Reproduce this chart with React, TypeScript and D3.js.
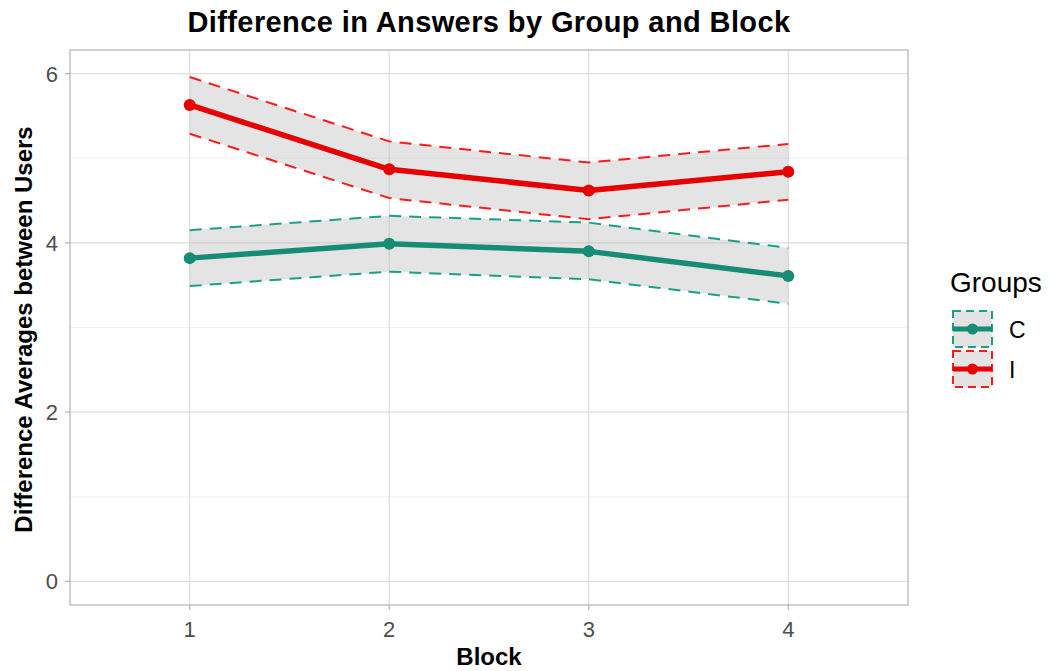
import React from "react";
import * as d3 from "d3";

const blocks = [1, 2, 3, 4];
const groups = ["C", "I"];
const meanC = [3.82, 3.99, 3.9, 3.61];
const upperC = [4.15, 4.32, 4.24, 3.94];
const lowerC = [3.49, 3.66, 3.57, 3.28];
const meanI = [5.63, 4.87, 4.62, 4.84];
const upperI = [5.96, 5.2, 4.95, 5.17];
const lowerI = [5.29, 4.53, 4.28, 4.51];
const yTicks = [0, 2, 4, 6];
const yMinor = [1, 3, 5];

const lineColors: Record<string, string> = { C: "#178c74", I: "#e60000" };
const dashColors: Record<string, string> = { C: "#1aa08a", I: "#ff1a1a" };

export default function App() {
  const W = 1053, H = 671;
  const L = 70, R = 908, T = 50, B = 605;
  const x = d3.scaleLinear().domain([0.4, 4.6]).range([L, R]);
  const y = d3.scaleLinear().domain([-0.28, 6.28]).range([B, T]);
  const series = [
    { g: "C", mean: meanC, up: upperC, lo: lowerC },
    { g: "I", mean: meanI, up: upperI, lo: lowerI },
  ];
  const line = d3.line<[number, number]>().x(d => x(d[0])).y(d => y(d[1]));
  const font = "'Liberation Sans', Arial, Helvetica, sans-serif";
  return (
    <svg width={W} height={H} style={{ position: "absolute", left: 0, top: 0, fontFamily: font }}>
      <rect width={W} height={H} fill="white" />
      {yMinor.map(v => (
        <line key={"m" + v} x1={L} x2={R} y1={y(v)} y2={y(v)} stroke="#efefef" strokeWidth={0.8} />
      ))}
      {yTicks.map(v => (
        <line key={"g" + v} x1={L} x2={R} y1={y(v)} y2={y(v)} stroke="#dedede" strokeWidth={1.2} />
      ))}
      {blocks.map(v => (
        <line key={"gx" + v} x1={x(v)} x2={x(v)} y1={T} y2={B} stroke="#dedede" strokeWidth={1.2} />
      ))}
      {series.map(s => {
        const a = d3.area<number>()
          .x((_, i) => x(blocks[i]))
          .y0((_, i) => y(s.lo[i]))
          .y1((_, i) => y(s.up[i]));
        return <path key={"r" + s.g} d={a(s.mean) || ""} fill="#b3b3b3" fillOpacity={0.35} />;
      })}
      {series.map(s => (
        <g key={"d" + s.g}>
          <path d={line(blocks.map((b, i) => [b, s.up[i]] as [number, number])) || ""} fill="none" stroke={dashColors[s.g]} strokeWidth={2} strokeDasharray="12,8" />
          <path d={line(blocks.map((b, i) => [b, s.lo[i]] as [number, number])) || ""} fill="none" stroke={dashColors[s.g]} strokeWidth={2} strokeDasharray="12,8" />
        </g>
      ))}
      {series.map(s => (
        <g key={"l" + s.g}>
          <path d={line(blocks.map((b, i) => [b, s.mean[i]] as [number, number])) || ""} fill="none" stroke={lineColors[s.g]} strokeWidth={5.5} strokeLinejoin="round" />
          {blocks.map((b, i) => (
            <circle key={b} cx={x(b)} cy={y(s.mean[i])} r={6} fill={lineColors[s.g]} />
          ))}
        </g>
      ))}
      <rect x={L} y={T} width={R - L} height={B - T} fill="none" stroke="#b3b3b3" strokeWidth={1.2} />
      {yTicks.map(v => (
        <g key={"yt" + v}>
          <line x1={L - 5} x2={L} y1={y(v)} y2={y(v)} stroke="#b3b3b3" strokeWidth={1.2} />
          <text x={L - 12} y={y(v)} dy="0.36em" textAnchor="end" fontSize={22} fill="#4d4d4d">{v}</text>
        </g>
      ))}
      {blocks.map(v => (
        <g key={"xt" + v}>
          <line x1={x(v)} x2={x(v)} y1={B} y2={B + 5} stroke="#b3b3b3" strokeWidth={1.2} />
          <text x={x(v)} y={637} textAnchor="middle" fontSize={22} fill="#4d4d4d">{v}</text>
        </g>
      ))}
      <text x={(L + R) / 2} y={665} textAnchor="middle" fontSize={24} fontWeight="bold" fill="black">Block</text>
      <text transform={`translate(32,${(T + B) / 2 + 2}) rotate(-90)`} textAnchor="middle" fontSize={24} fontWeight="bold" fill="black">Difference Averages between Users</text>
      <text x={(L + R) / 2} y={32} textAnchor="middle" fontSize={29} fontWeight="bold" fill="black" letterSpacing={0.4}>Difference in Answers by Group and Block</text>
      <text x={950} y={292} fontSize={28} fill="black">Groups</text>
      {groups.map((g, i) => {
        const ky = 311 + i * 40;
        return (
          <g key={"lg" + g}>
            <rect x={953} y={ky} width={39} height={36} fill="#e3e3e3" stroke={dashColors[g]} strokeWidth={2} strokeDasharray="8,5" />
            <line x1={953} x2={992} y1={ky + 18} y2={ky + 18} stroke={lineColors[g]} strokeWidth={5} />
            <circle cx={972.5} cy={ky + 18} r={5.5} fill={lineColors[g]} />
            <text x={1009} y={ky + 19} dy="0.36em" fontSize={23} fill="black">{g}</text>
          </g>
        );
      })}
    </svg>
  );
}
